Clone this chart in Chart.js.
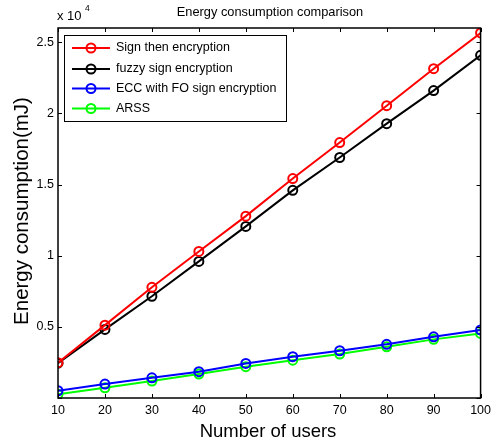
<!DOCTYPE html>
<html>
<head>
<meta charset="utf-8">
<script src="https://cdn.jsdelivr.net/npm/chart.js@4.4.1/dist/chart.umd.min.js"></script>
<style>
  html, body { margin: 0; padding: 0; background: #fff; }
  #wrap { width: 496px; height: 444px; }
</style>
</head>
<body>
<div id="wrap"><canvas id="energyChart" width="496" height="444"></canvas></div>
<script>
const users = [10, 20, 30, 40, 50, 60, 70, 80, 90, 100];
const signThenEncryption = [2480, 5120, 7780, 10300, 12780, 15420, 17950, 20540, 23140, 25650];
const fuzzySignEncryption = [2450, 4820, 7150, 9600, 12060, 14590, 16900, 19280, 21600, 24080];
const eccFoSignEncryption = [510, 980, 1420, 1850, 2430, 2900, 3320, 3770, 4300, 4780];
const arss = [260, 720, 1190, 1680, 2200, 2660, 3090, 3600, 4120, 4540];
const yTicks = [0, 5000, 10000, 15000, 20000, 25000];

const fontName = "'Liberation Sans', Arial, sans-serif";

function makeSet(label, values, color){
    return {
        label: label,
        data: users.map((u, i) => ({x: u, y: values[i]})),
        borderColor: color,
        backgroundColor: 'rgba(0,0,0,0)',
        borderWidth: 2,
        pointRadius: 4.5,
        pointBorderWidth: 2,
        pointBackgroundColor: 'rgba(0,0,0,0)',
        pointBorderColor: color,
        tension: 0
    };
}

// box, inward ticks, titles, exponent and legend in MATLAB style
const matlabAxes = {
    id: 'matlabAxes',
    afterDraw(chart){
        const ctx = chart.ctx;
        const a = chart.chartArea;
        const xs = chart.scales.x;
        const ys = chart.scales.y;
        ctx.save();
        ctx.strokeStyle = '#000';
        ctx.lineWidth = 1;
        ctx.beginPath();
        users.forEach(u => {
            const px = Math.round(xs.getPixelForValue(u)) + 0.5;
            ctx.moveTo(px, a.bottom); ctx.lineTo(px, a.bottom - 4);
            ctx.moveTo(px, a.top); ctx.lineTo(px, a.top + 4);
        });
        yTicks.forEach(v => {
            const py = Math.round(ys.getPixelForValue(v)) + 0.5;
            ctx.moveTo(a.left, py); ctx.lineTo(a.left + 4, py);
            ctx.moveTo(a.right, py); ctx.lineTo(a.right - 4, py);
        });
        ctx.stroke();
        ctx.lineWidth = 1.5;
        ctx.strokeRect(a.left, a.top, a.right - a.left, a.bottom - a.top);

        ctx.fillStyle = '#000';
        ctx.textAlign = 'center';
        ctx.textBaseline = 'middle';
        ctx.font = '12.8px ' + fontName;
        ctx.fillText('Energy consumption comparison', 270, 12);

        // axis titles
        ctx.font = '18.5px ' + fontName;
        ctx.fillText('Number of users', 268, 432);
        ctx.save();
        ctx.translate(22, 211);
        ctx.rotate(-Math.PI / 2);
        ctx.font = '20.5px ' + fontName;
        ctx.fillText('Energy consumption(mJ)', 0, 0);
        ctx.restore();

        // exponent
        ctx.textAlign = 'left';
        ctx.font = '13px ' + fontName;
        ctx.fillText('x 10', 57, 16);
        ctx.font = '8.5px ' + fontName;
        ctx.fillText('4', 85, 9);

        // legend
        const lx = 64, ly = 35, lw = 222, lh = 86;
        ctx.fillStyle = '#fff';
        ctx.fillRect(lx, ly, lw, lh);
        ctx.lineWidth = 1;
        ctx.strokeStyle = '#000';
        ctx.strokeRect(lx + 0.5, ly + 0.5, lw, lh);
        const rows = [48, 69, 88.5, 108.5];
        chart.data.datasets.forEach((ds, i) => {
            const y = rows[i];
            ctx.strokeStyle = ds.borderColor;
            ctx.lineWidth = 2;
            ctx.beginPath();
            ctx.moveTo(72, y); ctx.lineTo(110, y);
            ctx.stroke();
            ctx.beginPath();
            ctx.arc(91, y, 4.5, 0, Math.PI * 2);
            ctx.stroke();
            ctx.fillStyle = '#000';
            ctx.font = '12.5px ' + fontName;
            ctx.textAlign = 'left';
            ctx.textBaseline = 'middle';
            ctx.fillText(ds.label, 116, y);
        });
        ctx.restore();
    }
};

new Chart(document.getElementById('energyChart'), {
    type: 'line',
    data: {
        datasets: [
            makeSet('Sign then encryption', signThenEncryption, '#ff0000'),
            makeSet('fuzzy sign encryption', fuzzySignEncryption, '#000000'),
            makeSet('ECC with FO sign encryption', eccFoSignEncryption, '#0000ff'),
            makeSet('ARSS', arss, '#00ff00')
        ]
    },
    options: {
        responsive: false,
        animation: false,
        layout: { padding: { left: 0, right: 12, top: 28, bottom: 0 } },
        plugins: {
            legend: { display: false },
            title: { display: false },
            tooltip: { enabled: false }
        },
        scales: {
            x: {
                type: 'linear',
                min: 10,
                max: 100,
                afterFit(scale){ scale.height = 46; },
                afterBuildTicks(scale){ scale.ticks = users.map(v => ({value: v})); },
                grid: { display: false, drawTicks: false },
                border: { display: false },
                ticks: {
                    color: '#000',
                    padding: 5,
                    font: { family: fontName, size: 12.5 },
                    maxRotation: 0
                }
            },
            y: {
                min: 0,
                max: 26000,
                afterFit(scale){ scale.width = 58; },
                afterBuildTicks(scale){ scale.ticks = yTicks.map(v => ({value: v})); },
                grid: { display: false, drawTicks: false },
                border: { display: false },
                ticks: {
                    color: '#000',
                    padding: 4,
                    font: { family: fontName, size: 12.5 },
                    callback: v => v === 0 ? '' : String(v / 10000)
                }
            }
        }
    },
    plugins: [matlabAxes]
});
</script>
</body>
</html>
